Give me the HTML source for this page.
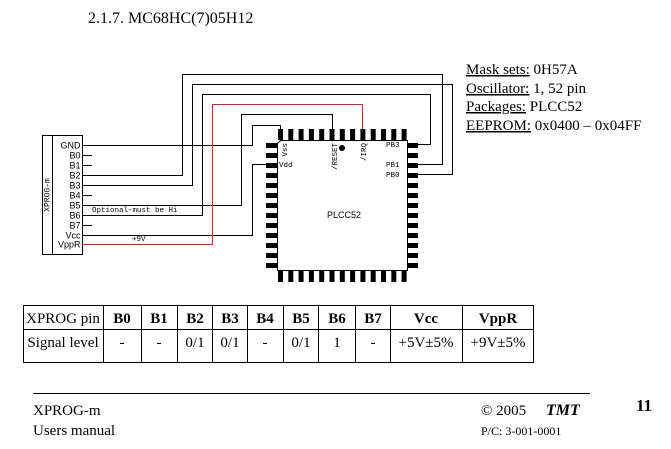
<!DOCTYPE html>
<html><head><meta charset="utf-8"><style>
body{margin:0;background:#fff;width:671px;height:449px;overflow:hidden}
svg{display:block}
</style></head><body>
<svg width="671" height="449" xmlns="http://www.w3.org/2000/svg">
<g font-family="Liberation Serif, serif" fill="#000">
<text x="88" y="23" font-size="16">2.1.7. MC68HC(7)05H12</text>
<g font-size="15">
<text x="466" y="74"><tspan text-decoration="underline">Mask sets:</tspan> 0H57A</text>
<text x="466" y="93"><tspan text-decoration="underline">Oscillator:</tspan> 1, 52 pin</text>
<text x="466" y="111"><tspan text-decoration="underline">Packages:</tspan> PLCC52</text>
<text x="466" y="130"><tspan text-decoration="underline">EEPROM:</tspan> 0x0400 – 0x04FF</text>
</g>
</g>
<!-- connector -->
<rect x="42.5" y="135.5" width="40" height="119" fill="none" stroke="#000"/>
<line x1="52.5" y1="135" x2="52.5" y2="255" stroke="#000"/>
<text transform="translate(49.5,195) rotate(-90)" font-family="Liberation Mono, monospace" font-size="8" text-anchor="middle">XPROG-m</text>
<g font-family="Liberation Sans, sans-serif" font-size="9" text-anchor="end">
<text x="80.5" y="148.5">GND</text><text x="80.5" y="158.5">B0</text><text x="80.5" y="168.5">B1</text><text x="80.5" y="178.5">B2</text><text x="80.5" y="188.5">B3</text><text x="80.5" y="198.5">B4</text><text x="80.5" y="208.5">B5</text><text x="80.5" y="218.5">B6</text><text x="80.5" y="228.5">B7</text><text x="80.5" y="238.5">Vcc</text><text x="80.5" y="247.5">VppR</text>
</g>
<g fill="none" stroke="#000" stroke-width="1">
<path d="M82 155.5H92M82 165.5H92M82 195.5H92M82 225.5H92"/>
<path d="M82 145.5H252.5V125.5H280.5V130"/>
<path d="M82 175.5H182.5V74.5H442.5V164.5H418"/>
<path d="M82 185.5H192.5V84.5H452.5V174.5H418"/>
<path d="M82 215.5H202.5V94.5H430.5V144.5H418"/>
<path d="M82 205.5H241.5V114.5H332.5V130"/>
<path d="M82 235.5H252.5V164.5H266"/>
</g>
<path d="M82 244.5H212.5V104.5H362.5V130" fill="none" stroke="#e02020"/>
<g font-family="Liberation Mono, monospace" font-size="7.5">
<text x="92" y="212">Optional-must be Hi</text>
<text x="132" y="241">+9V</text>
</g>
<!-- chip -->
<path d="M280.5 140.5H407.5V270.5H277.5V143.5Z" fill="#fff" stroke="#000"/>
<g fill="#000">
<g id="tp">
<rect x="278" y="129" width="5" height="11"/><rect x="288.3" y="129" width="5" height="11"/><rect x="298.6" y="129" width="5" height="11"/><rect x="308.9" y="129" width="5" height="11"/><rect x="319.2" y="129" width="5" height="11"/><rect x="329.5" y="129" width="5" height="11"/><rect x="339.8" y="129" width="5" height="11"/><rect x="350.1" y="129" width="5" height="11"/><rect x="360.4" y="129" width="5" height="11"/><rect x="370.7" y="129" width="5" height="11"/><rect x="381" y="129" width="5" height="11"/><rect x="391.3" y="129" width="5" height="11"/><rect x="401.6" y="129" width="5" height="11"/>
</g>
<use href="#tp" y="142"/>
<g id="lp">
<rect x="266" y="143" width="11" height="5"/><rect x="266" y="153" width="11" height="5"/><rect x="266" y="163" width="11" height="5"/><rect x="266" y="173" width="11" height="5"/><rect x="266" y="183" width="11" height="5"/><rect x="266" y="193" width="11" height="5"/><rect x="266" y="203" width="11" height="5"/><rect x="266" y="213" width="11" height="5"/><rect x="266" y="223" width="11" height="5"/><rect x="266" y="233" width="11" height="5"/><rect x="266" y="243" width="11" height="5"/><rect x="266" y="253" width="11" height="5"/><rect x="266" y="263" width="11" height="5"/>
</g>
<use href="#lp" x="141"/>
<circle cx="342" cy="148" r="3"/>
</g>
<g font-family="Liberation Mono, monospace" font-size="7.5">
<text transform="translate(287,143) rotate(-90)" text-anchor="end">Vss</text>
<text x="279" y="167">Vdd</text>
<text transform="translate(337,143) rotate(-90)" text-anchor="end">/RESET</text>
<text transform="translate(366,143) rotate(-90)" text-anchor="end">/IRQ</text>
<text x="386" y="147">PB3</text><text x="386" y="167">PB1</text><text x="386" y="177">PB0</text>
</g>
<text x="344" y="218" font-family="Liberation Sans, sans-serif" font-size="9" text-anchor="middle">PLCC52</text>
<!-- table -->
<g fill="none" stroke="#000">
<rect x="23.5" y="305.5" width="510" height="57"/>
<line x1="23" y1="329.5" x2="533" y2="329.5"/>
<path d="M103.5 305V362M141.5 305V362M177.5 305V362M212.5 305V362M247.5 305V362M283.5 305V362M318.5 305V362M355.5 305V362M390.5 305V362M462.5 305V362"/>
</g>
<g font-family="Liberation Serif, serif" font-size="15" text-anchor="middle">
<text x="63" y="323">XPROG pin</text>
<g font-weight="bold"><text x="122" y="323">B0</text><text x="159" y="323">B1</text><text x="195" y="323">B2</text><text x="230" y="323">B3</text><text x="265" y="323">B4</text><text x="301" y="323">B5</text><text x="337" y="323">B6</text><text x="373" y="323">B7</text><text x="426" y="323">Vcc</text><text x="498" y="323">VppR</text></g>
<text x="63" y="347">Signal level</text>
<text x="122" y="347">-</text><text x="159" y="347">-</text><text x="195" y="347">0/1</text><text x="230" y="347">0/1</text><text x="265" y="347">-</text><text x="301" y="347">0/1</text><text x="337" y="347">1</text><text x="373" y="347">-</text><text x="426" y="347">+5V±5%</text><text x="498" y="347">+9V±5%</text>
</g>
<!-- footer -->
<line x1="33" y1="393.5" x2="590" y2="393.5" stroke="#000"/>
<g font-family="Liberation Serif, serif" font-size="15">
<text x="33" y="415">XPROG-m</text>
<text x="33" y="435">Users manual</text>
<text x="481" y="415">© 2005</text>
<text x="546" y="415" font-weight="bold" font-style="italic" font-size="16">TMT</text>
<text x="481" y="435" font-size="12">P/C: 3-001-0001</text>
<text x="636" y="411" font-weight="bold" font-size="17">11</text>
</g>
</svg>
</body></html>
